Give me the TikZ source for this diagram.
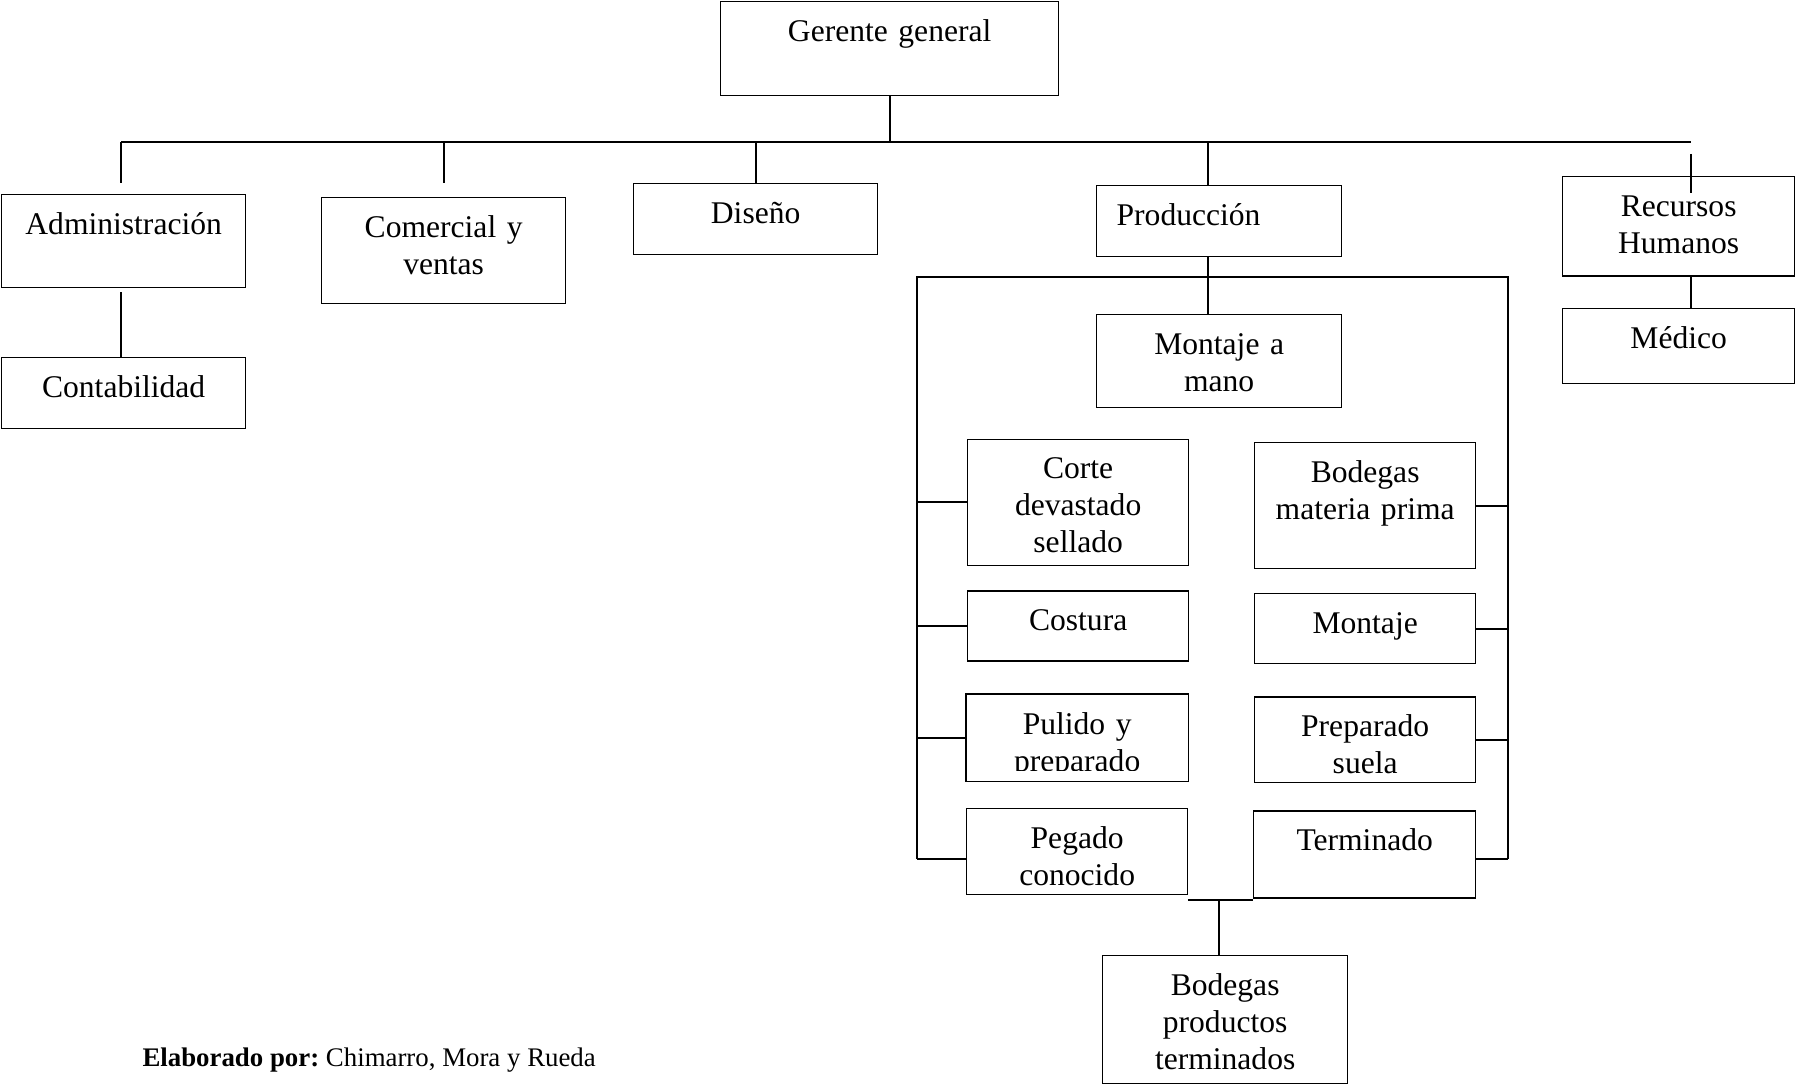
\documentclass[tikz,border=0pt]{standalone}
\usepackage{fontspec}
\setmainfont{Liberation Serif}
\usepackage{tikz}
\usetikzlibrary{calc}
\frenchspacing

\begin{document}
\begin{tikzpicture}[x=0.38pt, y=-0.38pt,
  box/.style 2 args={draw, line width=0.5pt, anchor=north west, inner sep=0pt,
    align=center, text width=#1, text height=15pt, text depth=#2,
    font=\fontsize{12}{14.1}\selectfont},
  link/.style={line width=0.7pt},
  bus/.style={line width=0.85pt}]

\useasboundingbox (0,0) rectangle (1795,1085);

\node[box={128.44pt}{20.72pt}] (ger) at (720,1) {Gerente general};

\node[box={92.72pt}{20.34pt}] (adm) at (1,194) {Administración};
\node[box={92.72pt}{25.28pt}] (com) at (321,197) {Comercial y\\ventas};
\node[box={92.72pt}{11.98pt}] (dis) at (633,183) {Diseño};
\node[box={77.9pt}{11.98pt}, inner xsep=7.6pt, align=left] (pro) at (1096,185) {Producción};
\node[box={88.16pt}{22.81pt}] (rh) at (1562,176) {Recursos\\Humanos};

\node[box={92.72pt}{11.98pt}] (con) at (1,357) {Contabilidad};
\node[box={88.16pt}{13.5pt}] (med) at (1562,308) {Médico};

\node[box={93.1pt}{20.34pt}] (mam) at (1096,314) {Montaje a\\mano};

\node[box={83.98pt}{32.88pt}] (cor) at (967,438.6) {Corte\\devastado\\sellado};
\node[box={83.98pt}{32.88pt}] (bmp) at (1254,442) {Bodegas\\materia prima};
\node[box={83.98pt}{11.6pt}] (cos) at (967,590.5) {Costura};
\node[box={83.98pt}{11.6pt}] (mon) at (1254,593) {Montaje};

\begin{scope}
 \clip (960,690) rectangle (1195,771);
 \node[box={83.98pt}{17.68pt}, draw=none] (pul) at (966,694) {Pulido y\\preparado};
\end{scope}
\draw[line width=0.5pt] (pul.north west) rectangle (pul.south east);

\node[box={83.98pt}{17.49pt}] (pre) at (1254,696.5) {Preparado\\suela};
\node[box={83.98pt}{17.68pt}] (peg) at (966,808) {Pegado\\conocido};
\node[box={84.36pt}{18.06pt}] (ter) at (1253,810.5) {Terminado};

\node[box={93.1pt}{33.64pt}] (bpt) at (1102,955) {Bodegas\\productos\\terminados};

\coordinate (busL) at (121,142);
\coordinate (busR) at (1691,142);
\coordinate (pX) at ($(pro.north)+(-11,0)$);

\draw[bus] (busL) -- (busR);
\draw[link] (ger.south) -- (ger.south |- busL);
\draw[link] (busL) -- (busL |- dis.north);
\draw[link] (com.north |- busL) -- (com.north |- dis.north);
\draw[link] (dis.north |- busL) -- (dis.north);
\draw[link] (pX |- busL) -- (pX);
\draw[link] ($(busR)+(0,12)$) -- ($(busR |- rh.north)+(0,17)$);

\draw[link] ($(busL |- adm.south)+(0,4)$) -- (busL |- con.north);
\draw[link] (rh.south -| busR) -- (med.north -| busR);
\draw[link] (pro.south -| pX) -- (mam.north -| pX);

\coordinate (brL) at (917,277);
\coordinate (brR) at (1508,277);
\coordinate (brLb) at (917,859);
\coordinate (brRb) at (1508,859);

\draw[bus] (brLb) -- (brL) -- (brR) -- (brRb);

\foreach \n in {cor,cos,pul}
 \draw[link] (\n.west) -- (\n.west -| brL);
\foreach \n in {bmp,mon,pre}
 \draw[link] (\n.east) -- (\n.east -| brR);
\draw[link] (brLb) -- (brLb -| peg.west);
\draw[link] (brRb) -- (brRb -| ter.east);

\coordinate (jn) at (1219,900);
\draw[bus] (jn -| peg.east) -- (jn -| ter.west);
\draw[link] (jn) -- (jn |- bpt.north);

\node[anchor=base west, inner sep=0pt, font=\fontsize{10.2}{12}\selectfont] (autor) at (142,1066)
 {\textbf{Elaborado por:} Chimarro, Mora y Rueda};

\end{tikzpicture}
\end{document}
